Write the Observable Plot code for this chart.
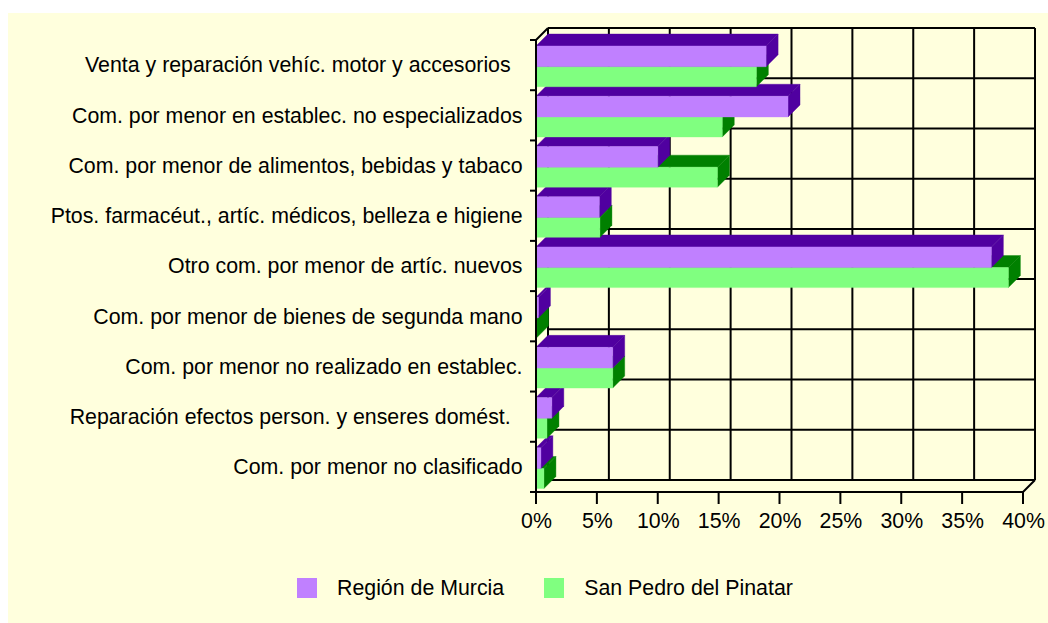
<!DOCTYPE html>
<html>
<head>
<meta charset="utf-8">
<script src="https://cdn.jsdelivr.net/npm/d3@7"></script>
<script src="https://cdn.jsdelivr.net/npm/@observablehq/plot@0.6"></script>
<style>
  html, body { margin: 0; padding: 0; background: #ffffff; }
  #panel { position: absolute; left: 8px; top: 13px; width: 1040px; height: 610px; background: #FFFFDD;
           font-family: "Liberation Sans", Arial, sans-serif; color: #000; }
  #chart { position: absolute; left: 0; top: 0; }
  #legend { position: absolute; left: 289px; top: 565px; display: flex; align-items: center;
            font-size: 21.33px; line-height: 20px; }
  #legend .item { display: flex; align-items: center; margin-right: 40px; }
  #legend .sw { display: inline-block; width: 20px; height: 20px; margin-right: 20px; }
</style>
</head>
<body>
<div id="panel">
  <div id="chart"></div>
  <div id="legend"></div>
</div>
<script>
// ---- data ----
const categories = [
  "Venta y reparación vehíc. motor y accesorios\u00a0\u00a0",
  "Com. por menor en establec. no especializados",
  "Com. por menor de alimentos, bebidas y tabaco",
  "Ptos. farmacéut., artíc. médicos, belleza e higiene",
  "Otro com. por menor de artíc. nuevos",
  "Com. por menor de bienes de segunda mano",
  "Com. por menor no realizado en establec.",
  "Reparación efectos person. y enseres domést.\u00a0\u00a0",
  "Com. por menor no clasificado"
];
const series = ["Región de Murcia", "San Pedro del Pinatar"];
const murcia   = [18.9, 20.7, 10.0, 5.2, 37.4, 0.2, 6.3, 1.3, 0.4];
const sanPedro = [18.1, 15.3, 14.9, 5.25, 38.8, 0.05, 6.3, 0.9, 0.65];
const xTicks = [0, 5, 10, 15, 20, 25, 30, 35, 40];

// ---- styles ----
const frontColors = ["#C080FF", "#80FF80"];
const darkColors  = ["#5000A0", "#008000"];
const D = 12; // 3D depth offset in px

function poly(g, pts, fill) {
  g.append("path").attr("d", "M" + pts.map(p => p.join(",")).join("L") + "Z")
    .attr("fill", fill).attr("stroke", fill).attr("stroke-width", 0.4);
}
function seg(g, x1, y1, x2, y2) {
  g.append("line").attr("x1", x1).attr("y1", y1).attr("x2", x2).attr("y2", y2);
}

// back wall + floor back edge (behind the bars)
const backWall = (index, {x, y}) => {
  const g = d3.create("svg:g").attr("fill", "none").attr("stroke", "#000").attr("stroke-width", 2);
  const bw = y.bandwidth();
  const B = y(categories[categories.length - 1]) + bw;
  const T = y(categories[0]);
  const bounds = categories.map(c => y(c)).concat([B]);
  const X0 = x(xTicks[0]), X1 = x(xTicks[xTicks.length - 1]);
  for (const yy of bounds) seg(g, X0 + D, yy - D, X1 + D, yy - D);
  for (const v of xTicks) seg(g, x(v) + D, T - D, x(v) + D, B - D);
  seg(g, X0, T, X0 + D, T - D);
  seg(g, X1, B, X1 + D, B - D);
  return g.node();
};

// 3D bars
const bars3d = (index, {x, y}) => {
  const g = d3.create("svg:g");
  const bw = y.bandwidth();
  const xs = x(0);
  for (let k = categories.length - 1; k >= 0; --k) {
    const b = y(categories[k]);
    const layers = [
      {v: sanPedro[k], t: b + 0.532 * bw, bt: b + 0.93 * bw, c: 1},
      {v: murcia[k],   t: b + 0.12 * bw,  bt: b + 0.532 * bw, c: 0}
    ];
    for (const L of layers) {
      const xe = x(L.v);
      poly(g, [[xs, L.t], [xe, L.t], [xe + D, L.t - D], [xs + D, L.t - D]], darkColors[L.c]);
      poly(g, [[xe, L.t], [xe + D, L.t - D], [xe + D, L.bt - D], [xe, L.bt]], darkColors[L.c]);
      poly(g, [[xs, L.t], [xe, L.t], [xe, L.bt], [xs, L.bt]], frontColors[L.c]);
    }
  }
  return g.node();
};

// front axes (in front of the bars)
const frontAxes = (index, {x, y}) => {
  const g = d3.create("svg:g").attr("fill", "none").attr("stroke", "#000").attr("stroke-width", 2);
  const bw = y.bandwidth();
  const B = y(categories[categories.length - 1]) + bw;
  const T = y(categories[0]);
  const bounds = categories.map(c => y(c)).concat([B]);
  const X0 = x(xTicks[0]), X1 = x(xTicks[xTicks.length - 1]);
  seg(g, X0, T, X0, B);
  seg(g, X0 - 6, B, X1, B);
  for (const yy of bounds) seg(g, X0 - 6, yy, X0, yy);
  for (const v of xTicks) seg(g, x(v), B, x(v), B + 12);
  return g.node();
};

const chart = Plot.plot({
  width: 1040,
  height: 547,
  marginLeft: 528,
  marginRight: 25,
  marginTop: 27,
  marginBottom: 68,
  x: {domain: [0, 40], axis: null},
  y: {type: "band", domain: categories, padding: 0, round: false, axis: null},
  style: {background: "transparent", fontFamily: "'Liberation Sans', Arial, sans-serif", fontSize: "21.33px", color: "#000", overflow: "visible"},
  marks: [
    backWall,
    bars3d,
    frontAxes,
    Plot.text(categories, {y: d => d, text: d => d, frameAnchor: "left", textAnchor: "end", dx: -14, fontSize: 21.33, fill: "#000"}),
    Plot.text(xTicks, {x: d => d, text: d => d + "%", frameAnchor: "bottom", dy: 35, fontSize: 21.33, fill: "#000"})
  ]
});
document.getElementById("chart").appendChild(chart);

const legend = d3.select("#legend");
series.forEach((s, i) => {
  const item = legend.append("div").attr("class", "item");
  item.append("span").attr("class", "sw").style("background", frontColors[i]);
  item.append("span").text(s);
});
</script>
</body>
</html>
